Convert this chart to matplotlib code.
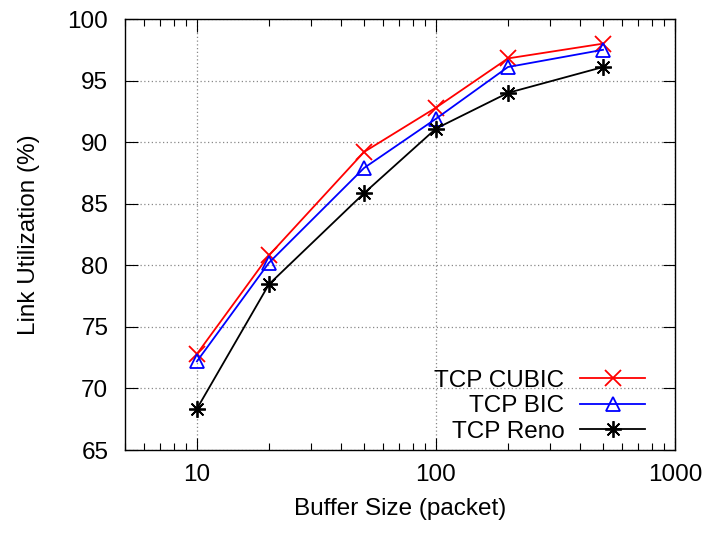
import numpy as np
import matplotlib
matplotlib.use("Agg")
import matplotlib.pyplot as plt
from matplotlib.ticker import LogLocator, NullFormatter, FixedLocator

plt.rcParams['font.family'] = ['Liberation Sans', 'DejaVu Sans']

buffer_size = [10, 20, 50, 100, 200, 500]
cubic = [72.8, 80.8, 89.2, 92.8, 96.8, 98.0]
bic = [72.2, 80.2, 87.9, 91.9, 96.1, 97.5]
reno = [68.35, 78.45, 85.85, 91.1, 94.0, 96.1]

fig = plt.figure(figsize=(7.09, 5.34), dpi=100)
ax = fig.add_axes([0.1763, 0.1573, 0.7757, 0.8071])

ax.plot(buffer_size, cubic, color='#ff0000', lw=1.3, marker='x', ms=11, mew=1.3, label='TCP CUBIC')
ax.plot(buffer_size, bic, color='#0000ff', lw=1.3, marker='^', ms=10, mew=1.3, mfc='none', label='TCP BIC')
ax.plot(buffer_size, reno, color='black', lw=1.3, marker=(8, 2, 0), ms=12, mew=1.3, label='TCP Reno')

ax.set_xscale('log')
ax.set_xlim(5, 1000)
ax.set_ylim(65, 100)
ax.xaxis.set_major_locator(FixedLocator([10, 100, 1000]))
ax.set_xticklabels(['10', '100', '1000'])
ax.xaxis.set_minor_locator(LogLocator(base=10, subs=np.arange(2, 10)))
ax.xaxis.set_minor_formatter(NullFormatter())
ax.set_yticks(np.arange(65, 101, 5))

ax.tick_params(which='major', direction='in', length=9, width=0.8, top=True, right=True, labelsize=17.5)
ax.tick_params(axis='y', which='major', pad=12)
ax.tick_params(axis='x', which='major', pad=10)
ax.tick_params(which='minor', direction='in', length=5, width=0.8, top=True, right=True)
ax.grid(True, which='major', color='#888888', linestyle=(0, (1, 2)), linewidth=0.9)
for s in ax.spines.values():
    s.set_linewidth(1.0)

ax.set_xlabel('Buffer Size (packet)', fontsize=17.5, labelpad=9)
ax.set_ylabel('Link Utilization (%)', fontsize=17.5, labelpad=20)

leg = ax.legend(loc='lower right', frameon=False, markerfirst=False, fontsize=17.5,
                handlelength=2.65, handletextpad=0.65, labelspacing=0.15,
                borderaxespad=0.3, bbox_to_anchor=(0.976, -0.023))
for t in leg.get_texts():
    t.set_ha('right')

fig.savefig('out.png', dpi=100)
